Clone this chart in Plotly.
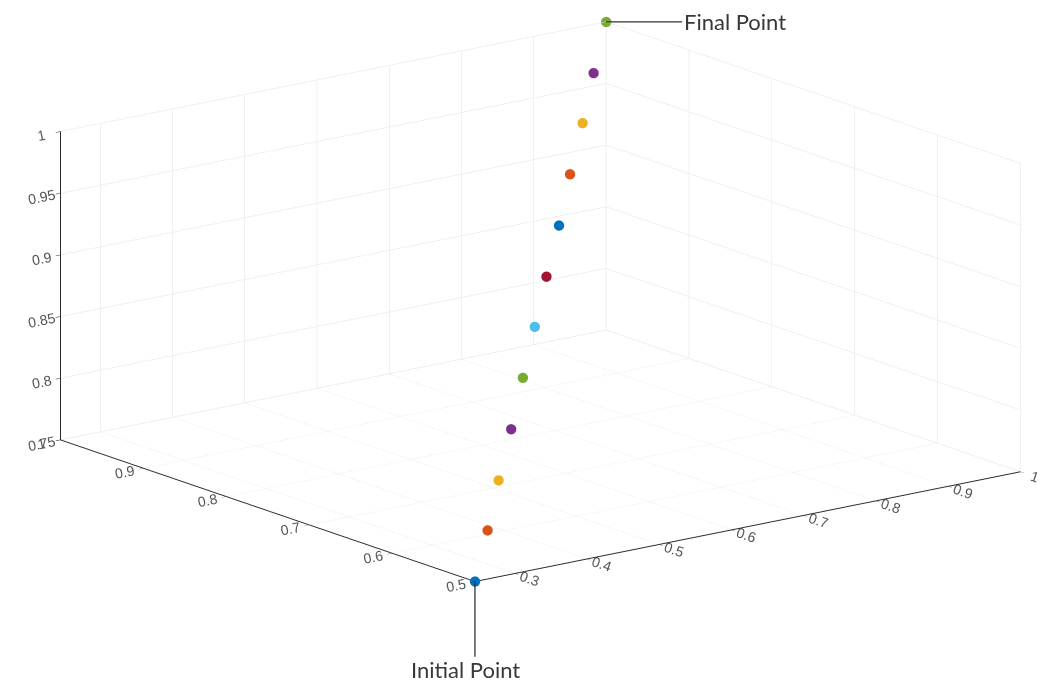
import plotly.graph_objects as go
import numpy as np

# Data: 12 points from the initial to the final point
x_vals = [0.245, 0.314, 0.382, 0.451, 0.520, 0.588, 0.657, 0.726, 0.794, 0.863, 0.931, 1.0]
y_vals = [0.5, 0.545, 0.591, 0.636, 0.682, 0.727, 0.773, 0.818, 0.864, 0.909, 0.955, 1.0]
z_vals = [0.75, 0.773, 0.795, 0.818, 0.841, 0.864, 0.886, 0.909, 0.932, 0.955, 0.977, 1.0]
point_colors = ["#0072BD", "#D95319", "#EDB120", "#7E2F8E", "#77AC30", "#4DBEEE",
                "#A2142F", "#0072BD", "#D95319", "#EDB120", "#7E2F8E", "#77AC30"]

x_ticks = [0.3, 0.4, 0.5, 0.6, 0.7, 0.8, 0.9, 1.0]
x_ticktext = ["0.3", "0.4", "0.5", "0.6", "0.7", "0.8", "0.9", "1"]
y_ticks = [0.5, 0.6, 0.7, 0.8, 0.9, 1.0]
y_ticktext = ["0.5", "0.6", "0.7", "0.8", "0.9", "1"]
z_ticks = [0.75, 0.8, 0.85, 0.9, 0.95, 1.0]
z_ticktext = ["0.75", "0.8", "0.85", "0.9", "0.95", "1"]

x_range = [0.2449, 1.0001]
y_range = [0.4999, 1.0001]
z_range = [0.7499, 1.0001]

fig = go.Figure()
fig.add_trace(go.Scatter3d(
    x=x_vals, y=y_vals, z=z_vals, mode="markers",
    marker=dict(size=6, color=point_colors, line=dict(width=0)),
    showlegend=False, hoverinfo="x+y+z",
))

axis_common = dict(
    showbackground=False,
    gridcolor="#e3e3e3",
    gridwidth=1,
    showline=True,
    linecolor="#2b2b2b",
    linewidth=2,
    ticks="outside",
    ticklen=6,
    tickcolor="#2b2b2b",
    tickfont=dict(family="Liberation Sans", size=13, color="#555555"),
    title=dict(text=""),
    zeroline=False,
    showspikes=False,
)

# MATLAB-like view, expressed as an orthographic Plotly camera
phi = np.radians(52.5)
el = np.radians(15.2)
direction = np.array([-np.cos(phi) * np.cos(el), -np.sin(phi) * np.cos(el), np.sin(el)])
center = np.array([-0.0446, -0.0125, -0.1366])
eye_vec = center + 2.0 * direction
zoom = 2.0105

label_font = dict(family="Lato", size=22, color="#383838")

fig.update_layout(
    width=1046, height=684,
    margin=dict(l=0, r=0, t=0, b=0),
    paper_bgcolor="white",
    plot_bgcolor="white",
    font=dict(family="Liberation Sans"),
    scene=dict(
        domain=dict(x=[0.0, 1.0], y=[0.0, 1.0]),
        xaxis=dict(range=x_range, tickvals=x_ticks, ticktext=x_ticktext, **axis_common),
        yaxis=dict(range=y_range, tickvals=y_ticks, ticktext=y_ticktext, **axis_common),
        zaxis=dict(range=z_range, tickvals=z_ticks, ticktext=z_ticktext, **axis_common),
        aspectmode="manual",
        aspectratio=dict(x=1.0 * zoom, y=0.99 * zoom, z=0.465 * zoom),
        camera=dict(
            eye=dict(x=eye_vec[0], y=eye_vec[1], z=eye_vec[2]),
            center=dict(x=center[0], y=center[1], z=center[2]),
            up=dict(x=0, y=0, z=1),
            projection=dict(type="orthographic"),
        ),
        annotations=[
            dict(x=x_vals[0], y=y_vals[0], z=z_vals[0], text="",
                 showarrow=True, arrowhead=0, arrowwidth=1.3, arrowcolor="#333333",
                 ax=0, ay=77),
            dict(x=x_vals[0], y=y_vals[0], z=z_vals[0], text="Initial Point",
                 showarrow=False, xshift=-9, yshift=-88, font=label_font),
            dict(x=x_vals[-1], y=y_vals[-1], z=z_vals[-1], text="Final Point",
                 showarrow=True, arrowhead=0, arrowwidth=1.3, arrowcolor="#333333",
                 ax=76, ay=0, xanchor="left", font=label_font),
        ],
    ),
)

fig.write_html("out.html")
